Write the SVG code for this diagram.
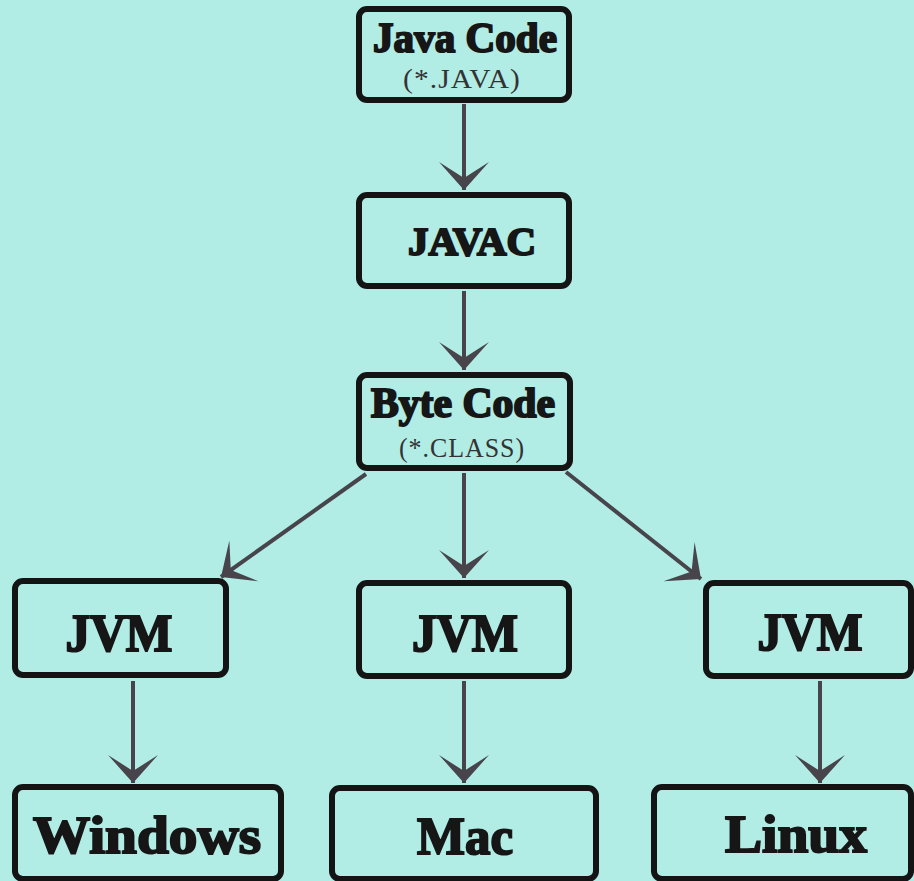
<svg xmlns="http://www.w3.org/2000/svg" width="914" height="881" viewBox="0 0 914 881">
<defs>
<style>
.box{fill:none;stroke:#141414;stroke-width:6}
.t{font-family:"Liberation Serif","DejaVu Serif",serif;font-weight:bold;fill:#161616;stroke:#161616;stroke-width:2;text-anchor:middle}
.s{font-family:"Liberation Serif","DejaVu Serif",serif;font-size:27px;fill:#333333;text-anchor:middle;letter-spacing:1px}
.c{stroke:#47444b;stroke-width:4;fill:none;marker-end:url(#ah)}
</style>
<marker id="ah" markerUnits="userSpaceOnUse" markerWidth="60" markerHeight="60" viewBox="-30 -30 60 60" refX="0" refY="0" orient="auto">
<path d="M0,0 L-28,-25 L-12,0 L-28,25 Z" fill="#47444b"/>
</marker>
</defs>
<rect width="914" height="881" fill="#b1ece5"/>
<g id="connectors">
<line class="c" x1="464" y1="104" x2="464" y2="190"/>
<line class="c" x1="464" y1="291" x2="464" y2="370"/>
<line class="c" x1="366" y1="474" x2="221" y2="577"/>
<line class="c" x1="464" y1="473" x2="464" y2="578"/>
<line class="c" x1="566" y1="472" x2="701" y2="579"/>
<line class="c" x1="133" y1="681" x2="133" y2="783"/>
<line class="c" x1="464" y1="681" x2="464" y2="783"/>
<line class="c" x1="820" y1="681" x2="820" y2="783"/>
</g>
<g id="java-code">
<rect class="box" x="359" y="9" width="210" height="91" rx="8"/>
<text class="t" x="465" y="52" font-size="42" textLength="184" lengthAdjust="spacingAndGlyphs">Java Code</text>
<text class="s" x="462" y="88" textLength="118" lengthAdjust="spacingAndGlyphs">(*.JAVA)</text>
</g>
<g id="javac">
<rect class="box" x="359" y="195" width="210" height="91" rx="8"/>
<text class="t" x="472" y="255" font-size="40" textLength="128" lengthAdjust="spacingAndGlyphs">JAVAC</text>
</g>
<g id="byte-code">
<rect class="box" x="359" y="375" width="211" height="93" rx="8"/>
<text class="t" x="463" y="417" font-size="42" textLength="184" lengthAdjust="spacingAndGlyphs">Byte Code</text>
<text class="s" x="462" y="457" textLength="126" lengthAdjust="spacingAndGlyphs">(*.CLASS)</text>
</g>
<g id="jvm-left">
<rect class="box" x="15" y="581" width="211" height="94" rx="8"/>
<text class="t" x="119" y="651" font-size="52" textLength="107" lengthAdjust="spacingAndGlyphs">JVM</text>
</g>
<g id="jvm-mid">
<rect class="box" x="359" y="583" width="210" height="93" rx="8"/>
<text class="t" x="465" y="651" font-size="52" textLength="106" lengthAdjust="spacingAndGlyphs">JVM</text>
</g>
<g id="jvm-right">
<rect class="box" x="706" y="583" width="205" height="93" rx="8"/>
<text class="t" x="810" y="650" font-size="52" textLength="105" lengthAdjust="spacingAndGlyphs">JVM</text>
</g>
<g id="windows">
<rect class="box" x="15" y="787" width="266" height="92" rx="8"/>
<text class="t" x="147" y="853" font-size="52" textLength="228" lengthAdjust="spacingAndGlyphs">Windows</text>
</g>
<g id="mac">
<rect class="box" x="332" y="788" width="264" height="91" rx="8"/>
<text class="t" x="465" y="854" font-size="52" textLength="96" lengthAdjust="spacingAndGlyphs">Mac</text>
</g>
<g id="linux">
<rect class="box" x="654" y="787" width="257" height="92" rx="8"/>
<text class="t" x="796" y="852" font-size="52" textLength="142" lengthAdjust="spacingAndGlyphs">Linux</text>
</g>
</svg>
